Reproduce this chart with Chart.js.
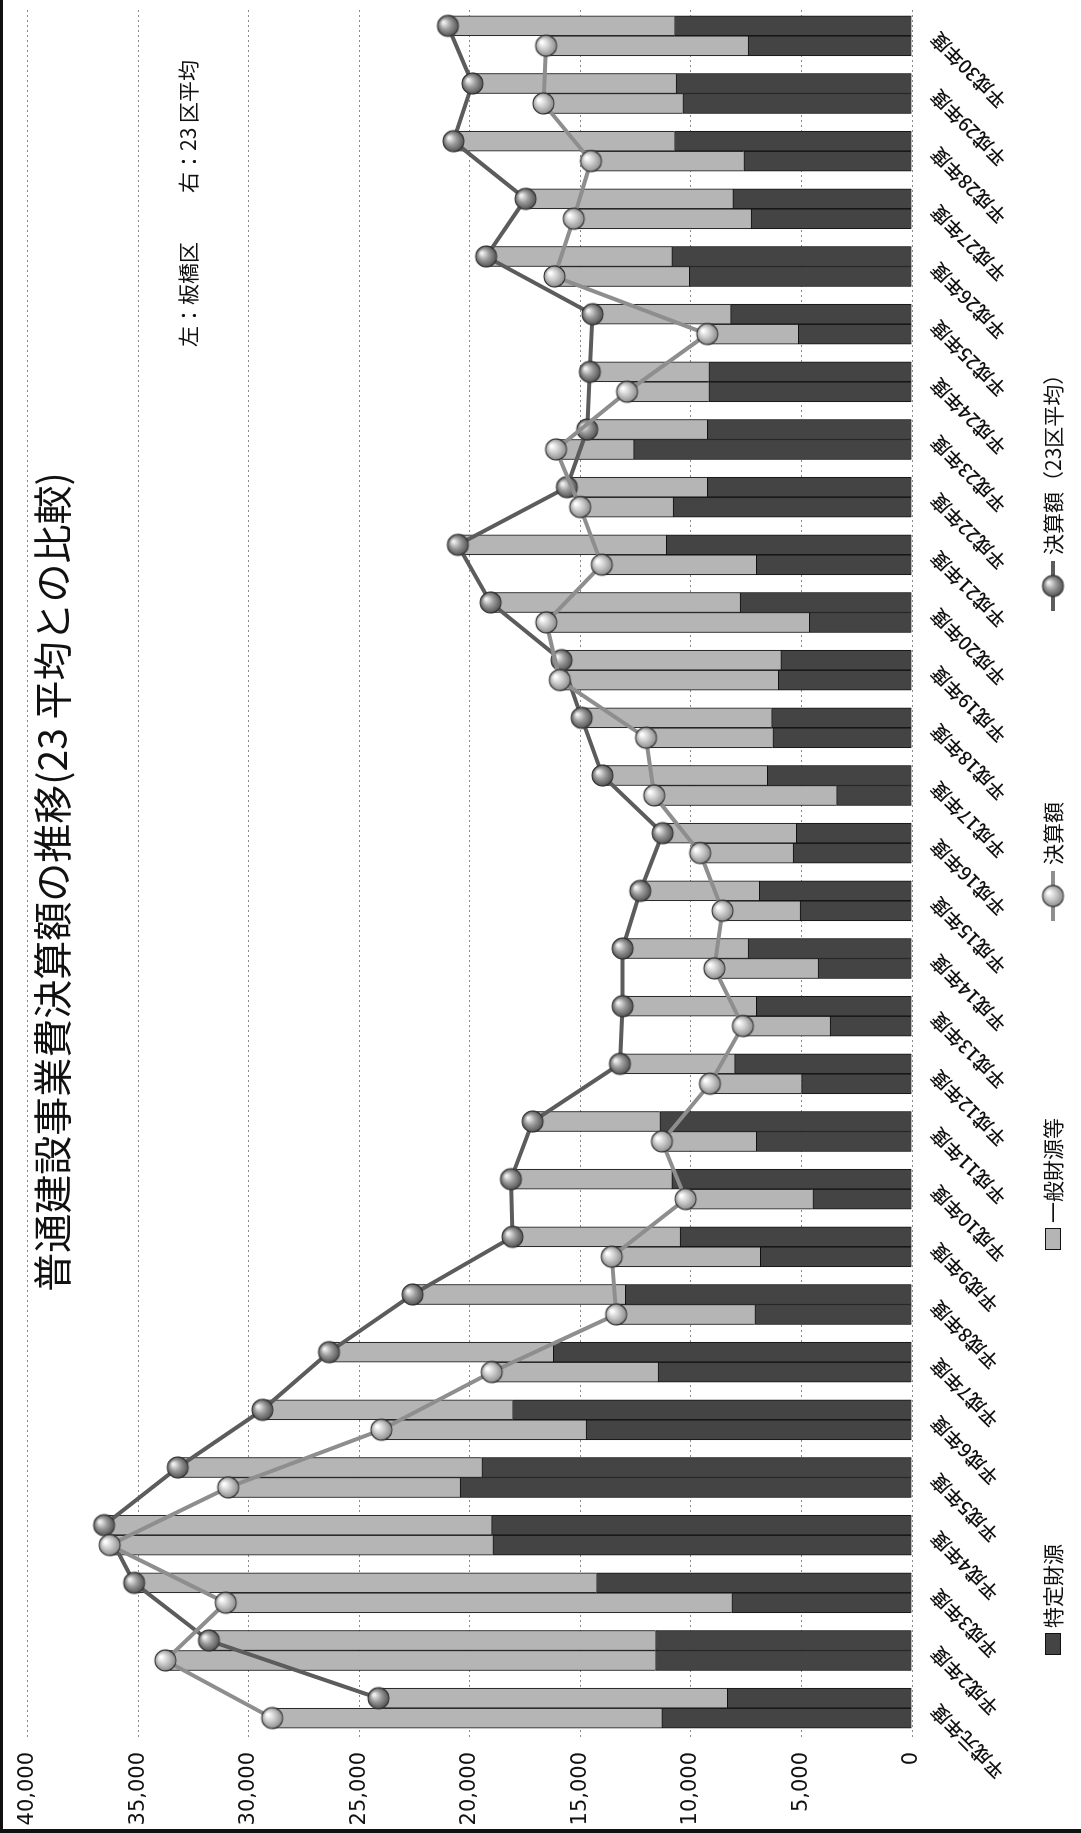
<!DOCTYPE html>
<html>
<head>
<meta charset="utf-8">
<script src="https://cdn.jsdelivr.net/npm/chart.js@4.4.1/dist/chart.umd.min.js"></script>
<style>
  html, body { margin: 0; padding: 0; background: #fff; }
  #frame { position: relative; width: 1081px; height: 1833px; overflow: hidden; background: #fff; }
  /* the chart is laid out landscape and turned a quarter turn counter-clockwise */
  #chart { position: absolute; left: 0; top: 0; transform-origin: 0 0; transform: translate(0, 1833px) rotate(-90deg); }
  .edge { position: absolute; background: #111; }
</style>
</head>
<body>
<div id="frame">
  <canvas id="chart" width="1840" height="1081" style="width:1840px;height:1081px"></canvas>
  <div class="edge" style="left:0;top:0;width:3px;height:1833px"></div>
  <div class="edge" style="left:0;top:1829px;width:1081px;height:4px"></div>
</div>
<script>
// 年度
const years = ['平成元年度','平成2年度','平成3年度','平成4年度','平成5年度','平成6年度','平成7年度','平成8年度','平成9年度','平成10年度',
  '平成11年度','平成12年度','平成13年度','平成14年度','平成15年度','平成16年度','平成17年度','平成18年度','平成19年度','平成20年度',
  '平成21年度','平成22年度','平成23年度','平成24年度','平成25年度','平成26年度','平成27年度','平成28年度','平成29年度','平成30年度'];

// 板橋区（左の棒）
const itabashiSpecific = [11310,11600,8150,18960,20440,14740,11480,7110,6860,4490,7040,4990,3700,4250,5060,5380,3410,6300,6050,4640,7040,10810,12590,9190,5140,10070,7280,7610,10370,7410];
const itabashiGeneral  = [17630,22170,22890,17330,10490,9260,7530,6270,6720,5750,4270,4150,3950,4690,3510,4200,8250,5730,9880,11900,6990,4200,3510,3700,4120,6100,8020,6910,6300,9140];

// 23区平均（右の棒）
const wardSpecific = [8350,11600,14270,19010,19460,18070,16220,12960,10490,10860,11410,8020,7040,7410,6910,5230,6540,6350,5930,7780,11110,9260,9260,9190,8200,10860,8100,10740,10670,10740];
const wardGeneral  = [15780,20200,20910,17530,13750,11310,10150,9630,7580,7280,5750,5190,6050,5680,5380,6050,7460,8590,9920,11280,9430,6350,5430,5380,6250,8400,9380,10000,9210,10250];

const valueTicks = [0,5000,10000,15000,20000,25000,30000,35000,40000];

const titleText = '普通建設事業費決算額の推移(23 平均との比較)';
const noteLeft = '左：板橋区';
const noteRight = '右：23 区平均';
const legendNames = ['特定財源', '一般財源等', '決算額', '決算額（23区平均）'];

const COLOR_SPECIFIC = '#444444';
const COLOR_GENERAL = '#b5b5b5';
const LINE_ITABASHI = '#8e8e8e';
const LINE_WARD = '#5c5c5c';
const CAT_PCT = 0.69;     // share of a category taken by the bar pair
const BAR_PX = 20;        // width of one bar

// 決算額 = 特定財源 + 一般財源等
const itabashiTotal = itabashiSpecific.map((v, i) => v + itabashiGeneral[i]);
const wardTotal = wardSpecific.map((v, i) => v + wardGeneral[i]);

// line points sit on the centre of their own bar within the pair
const barShift = CAT_PCT / 4;
const itabashiLine = itabashiTotal.map((v, i) => ({ x: i - barShift, y: v }));
const wardLine = wardTotal.map((v, i) => ({ x: i + barShift, y: v }));

function sphere(base, dark, light) {
  const c = document.createElement('canvas');
  c.width = 25; c.height = 25;
  const g = c.getContext('2d');
  const grad = g.createRadialGradient(16, 8, 1, 12.5, 12.5, 11);
  grad.addColorStop(0, light);
  grad.addColorStop(0.45, base);
  grad.addColorStop(1, dark);
  g.beginPath();
  g.arc(12.5, 12.5, 10.5, 0, Math.PI * 2);
  g.fillStyle = grad;
  g.fill();
  g.lineWidth = 1.2;
  g.strokeStyle = '#333';
  g.stroke();
  return c;
}
const markerItabashi = sphere('#cccccc', '#888888', '#ffffff');
const markerWard = sphere('#9c9c9c', '#4e4e4e', '#f0f0f0');

const annotations = {
  id: 'annotations',
  afterDraw(chart) {
    const ctx = chart.ctx;
    ctx.save();
    ctx.fillStyle = '#111';
    ctx.textBaseline = 'middle';

    ctx.font = '39px "Noto Sans CJK JP", sans-serif';
    ctx.textAlign = 'center';
    ctx.fillText(titleText, 951, 52);

    ctx.font = '21px "Noto Sans CJK JP", sans-serif';
    ctx.textAlign = 'left';
    ctx.fillText(noteLeft, 1486, 188);
    ctx.fillText(noteRight, 1640, 188);

    const ly = 1053;
    // bar keys
    [[178, COLOR_SPECIFIC, legendNames[0]], [583, COLOR_GENERAL, legendNames[1]]].forEach(([x, col, name]) => {
      ctx.fillStyle = col;
      ctx.fillRect(x, ly - 8, 22, 16);
      ctx.strokeStyle = '#111';
      ctx.lineWidth = 1;
      ctx.strokeRect(x + 0.5, ly - 7.5, 21, 15);
      ctx.fillStyle = '#111';
      ctx.fillText(name, x + 27, ly);
    });
    // line keys
    [[912, LINE_ITABASHI, markerItabashi, legendNames[2]], [1222, LINE_WARD, markerWard, legendNames[3]]].forEach(([x, col, img, name]) => {
      ctx.strokeStyle = col;
      ctx.lineWidth = 4;
      ctx.beginPath();
      ctx.moveTo(x, ly);
      ctx.lineTo(x + 50, ly);
      ctx.stroke();
      ctx.drawImage(img, x + 25 - 12.5, ly - 12.5);
      ctx.fillStyle = '#111';
      ctx.fillText(name, x + 56, ly);
    });
    ctx.restore();
  }
};

const barStyle = { type: 'bar', xAxisID: 'x', yAxisID: 'y', order: 1, barThickness: BAR_PX,
  borderColor: '#111', borderWidth: 1 };

new Chart(document.getElementById('chart'), {
  data: {
    labels: years,
    datasets: [
      { type: 'line', label: legendNames[2], data: itabashiLine, xAxisID: 'xl', yAxisID: 'y', order: 0,
        borderColor: LINE_ITABASHI, borderWidth: 4, pointStyle: markerItabashi, pointRadius: 10, tension: 0 },
      { type: 'line', label: legendNames[3], data: wardLine, xAxisID: 'xl', yAxisID: 'y', order: 0,
        borderColor: LINE_WARD, borderWidth: 4, pointStyle: markerWard, pointRadius: 10, tension: 0 },
      { ...barStyle, label: legendNames[0], data: itabashiSpecific, stack: 'itabashi', backgroundColor: COLOR_SPECIFIC },
      { ...barStyle, label: legendNames[1], data: itabashiGeneral, stack: 'itabashi', backgroundColor: COLOR_GENERAL },
      { ...barStyle, label: legendNames[0], data: wardSpecific, stack: 'ward', backgroundColor: COLOR_SPECIFIC },
      { ...barStyle, label: legendNames[1], data: wardGeneral, stack: 'ward', backgroundColor: COLOR_GENERAL }
    ]
  },
  options: {
    responsive: false,
    animation: false,
    devicePixelRatio: 1,
    layout: { padding: { top: 25, right: 4, left: 0, bottom: 0 } },
    plugins: { legend: { display: false }, title: { display: false }, tooltip: { enabled: false } },
    scales: {
      x: {
        type: 'category',
        stacked: true,
        offset: true,
        grid: { display: false },
        border: { display: false },
        ticks: { minRotation: 45, maxRotation: 45, autoSkip: false, padding: 6, color: '#111',
          font: { family: '"Noto Sans CJK JP", sans-serif', size: 19, weight: '500' } },
        afterFit(scale) { scale.height = 169; }
      },
      xl: { type: 'linear', display: false, min: -0.5, max: years.length - 0.5 },
      y: {
        stacked: true,
        min: 0, max: 40000,
        afterBuildTicks(scale) { scale.ticks = valueTicks.map(v => ({ value: v })); },
        grid: { color: '#8a8a8a', lineWidth: 1, drawTicks: false },
        border: { display: false, dash: [2, 3] },
        ticks: { padding: 15, color: '#111', font: { family: '"DejaVu Sans", sans-serif', size: 21 },
          callback: v => v.toLocaleString('en-US') },
        afterFit(scale) { scale.width = 96; }
      }
    }
  },
  plugins: [annotations]
});
</script>
</body>
</html>
